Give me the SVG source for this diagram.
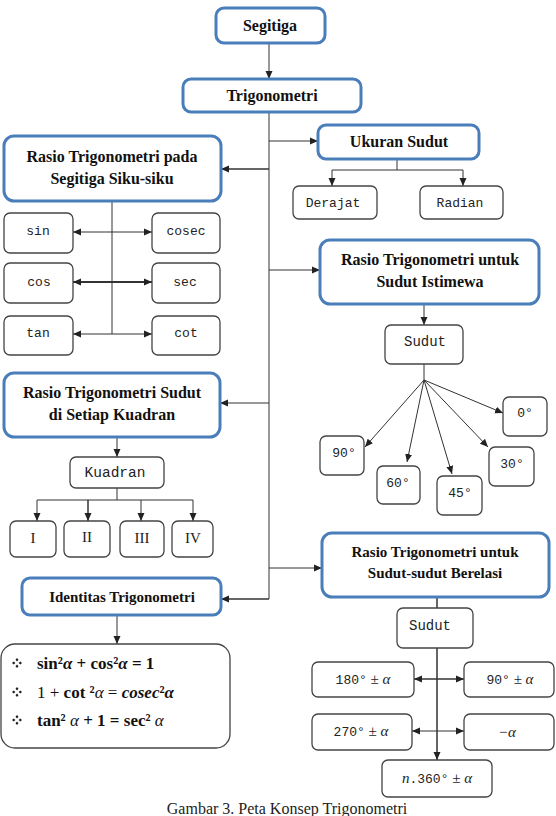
<svg xmlns="http://www.w3.org/2000/svg" width="556" height="816" viewBox="0 0 556 816">
<style>
.bb{fill:#fff;stroke:#4a7ebb;stroke-width:3}
.gb{fill:#fff;stroke:#444;stroke-width:1.3}
.h{font-family:"Liberation Serif","Times New Roman",serif;font-weight:bold;font-size:16px;fill:#111;text-anchor:middle}
.h15{font-size:15px}
.m{font-family:"Liberation Mono","Courier New",monospace;font-size:13px;fill:#222;text-anchor:middle}
.r{font-family:"Liberation Serif","Times New Roman",serif;font-size:15px;fill:#222;text-anchor:middle}
.f{font-family:"Liberation Serif","Times New Roman",serif;font-weight:bold;font-size:17px;fill:#111}
.n{font-weight:normal}
.it{font-style:italic}
.c{stroke:#333;stroke-width:1;fill:none}
.a{marker-end:url(#ah)}
.d{marker-start:url(#ah);marker-end:url(#ah)}
</style>
<defs>
<marker id="ah" viewBox="0 0 8 8" refX="8" refY="4" markerWidth="8" markerHeight="8" markerUnits="userSpaceOnUse" orient="auto-start-reverse">
<path d="M0,0.5 L8,4 L0,7.5 z" fill="#222"/>
</marker>
<g id="bul">
<path d="M0,-5 L1.5,-3.3 L0,-1.6 L-1.5,-3.3 z M0,5 L1.5,3.3 L0,1.6 L-1.5,3.3 z M-5,0 L-3.3,1.5 L-1.6,0 L-3.3,-1.5 z M5,0 L3.3,1.5 L1.6,0 L3.3,-1.5 z" fill="#222"/>
</g>
</defs>

<g id="connectors">
<line class="c a" x1="269" y1="43" x2="269" y2="79"/>
<line class="c" x1="269" y1="112" x2="269" y2="599"/>
<line class="c a" x1="269" y1="141" x2="318" y2="141"/>
<line class="c a" x1="269" y1="169" x2="221" y2="169" style="stroke-width:1.6"/>
<line class="c a" x1="269" y1="270" x2="320" y2="270"/>
<line class="c a" x1="269" y1="403" x2="220" y2="403"/>
<line class="c a" x1="269" y1="568" x2="322" y2="568"/>
<line class="c a" x1="269" y1="599" x2="221" y2="599" style="stroke-width:1.4"/>
<line class="c" x1="397" y1="159" x2="397" y2="170"/>
<line class="c" x1="332" y1="170" x2="463" y2="170"/>
<line class="c a" x1="332" y1="170" x2="332" y2="186"/>
<line class="c a" x1="463" y1="170" x2="463" y2="186"/>
<line class="c" x1="112" y1="201" x2="112" y2="334"/>
<line class="c d" x1="73" y1="232" x2="152" y2="232"/>
<line class="c d" x1="73" y1="282" x2="152" y2="282" style="stroke-width:1.8"/>
<line class="c d" x1="73" y1="334" x2="152" y2="334"/>
<line class="c a" x1="424" y1="304" x2="424" y2="325"/>
<line class="c" x1="424" y1="364" x2="424" y2="380"/>
<line class="c a" x1="424" y1="380" x2="503" y2="413"/>
<line class="c a" x1="424" y1="380" x2="365" y2="447"/>
<line class="c a" x1="424" y1="380" x2="407" y2="462"/>
<line class="c a" x1="424" y1="380" x2="452" y2="474"/>
<line class="c a" x1="424" y1="380" x2="488" y2="447"/>
<line class="c a" x1="117" y1="437" x2="117" y2="457"/>
<line class="c" x1="117" y1="488" x2="117" y2="500"/>
<line class="c" x1="37" y1="500" x2="193" y2="500"/>
<line class="c a" x1="37" y1="500" x2="37" y2="521"/>
<line class="c a" x1="88" y1="500" x2="88" y2="521" style="stroke-width:1.5"/>
<line class="c a" x1="141" y1="500" x2="141" y2="521"/>
<line class="c a" x1="193" y1="500" x2="193" y2="521"/>
<line class="c a" x1="117" y1="615" x2="117" y2="644"/>
<line class="c" x1="437" y1="597" x2="437" y2="608" style="stroke-width:1.5"/>
<line class="c a" x1="437" y1="648" x2="437" y2="760" style="stroke-width:1.5"/>
<line class="c d" x1="414" y1="679" x2="464" y2="679" style="stroke-width:1.3"/>
<line class="c d" x1="412" y1="731" x2="464" y2="731"/>
</g>

<g id="segitiga"><rect class="bb" x="216" y="8" width="109" height="35" rx="8"/><text class="h" x="270" y="31">Segitiga</text></g>
<g id="trigonometri"><rect class="bb" x="183" y="79" width="178" height="33" rx="8"/><text class="h" x="272" y="101">Trigonometri</text></g>

<g id="ukuran-sudut"><rect class="bb" x="318" y="125" width="161" height="34" rx="8"/><text class="h" x="399" y="147">Ukuran Sudut</text></g>
<g id="derajat"><rect class="gb" x="293" y="186" width="84" height="33" rx="6"/><text class="m" x="333" y="207">Derajat</text></g>
<g id="radian"><rect class="gb" x="420" y="186" width="83" height="33" rx="6"/><text class="m" x="460" y="207">Radian</text></g>

<g id="rasio-siku"><rect class="bb" x="4" y="136" width="217" height="65" rx="10"/><text class="h" x="112" y="162">Rasio Trigonometri pada</text><text class="h" x="112" y="184">Segitiga Siku-siku</text></g>
<g id="sin"><rect class="gb" x="4" y="213" width="69" height="40" rx="6"/><text class="m" x="38" y="235">sin</text></g>
<g id="cosec"><rect class="gb" x="152" y="213" width="68" height="40" rx="6"/><text class="m" x="186" y="235">cosec</text></g>
<g id="cos"><rect class="gb" x="4" y="263" width="69" height="40" rx="6"/><text class="m" x="39" y="286">cos</text></g>
<g id="sec"><rect class="gb" x="152" y="263" width="68" height="40" rx="6"/><text class="m" x="185" y="286">sec</text></g>
<g id="tan"><rect class="gb" x="4" y="316" width="69" height="39" rx="6"/><text class="m" x="38" y="337">tan</text></g>
<g id="cot"><rect class="gb" x="152" y="316" width="68" height="39" rx="6"/><text class="m" x="186" y="337">cot</text></g>

<g id="rasio-istimewa"><rect class="bb" x="320" y="240" width="219" height="64" rx="10"/><text class="h" x="430" y="265">Rasio Trigonometri untuk</text><text class="h" x="430" y="287">Sudut Istimewa</text></g>
<g id="sudut-istimewa"><rect class="gb" x="385" y="325" width="78" height="39" rx="6"/><text class="m" x="425" y="346" style="font-size:14px">Sudut</text></g>
<g id="d0"><rect class="gb" x="503" y="397" width="44" height="39" rx="6"/><text class="m" x="525" y="417">0°</text></g>
<g id="d90"><rect class="gb" x="320" y="436" width="44" height="39" rx="6"/><text class="m" x="344" y="457">90°</text></g>
<g id="d60"><rect class="gb" x="377" y="466" width="43" height="38" rx="6"/><text class="m" x="398" y="487">60°</text></g>
<g id="d45"><rect class="gb" x="437" y="476" width="45" height="39" rx="6"/><text class="m" x="460" y="497">45°</text></g>
<g id="d30"><rect class="gb" x="489" y="447" width="45" height="39" rx="6"/><text class="m" x="512" y="468">30°</text></g>

<g id="rasio-kuadran"><rect class="bb" x="4" y="373" width="216" height="64" rx="10"/><text class="h" x="112" y="398">Rasio Trigonometri Sudut</text><text class="h" x="112" y="420">di Setiap Kuadran</text></g>
<g id="kuadran"><rect class="gb" x="70" y="457" width="94" height="31" rx="6"/><text class="m" x="115" y="477" style="font-size:14.5px">Kuadran</text></g>
<g id="q1"><rect class="gb" x="10" y="521" width="46" height="36" rx="6"/><text class="r" x="33" y="543">I</text></g>
<g id="q2"><rect class="gb" x="64" y="521" width="46" height="36" rx="6"/><text class="r" x="87" y="542">II</text></g>
<g id="q3"><rect class="gb" x="120" y="521" width="44" height="36" rx="6"/><text class="r" x="142" y="543">III</text></g>
<g id="q4"><rect class="gb" x="172" y="521" width="41" height="36" rx="6"/><text class="r" x="193" y="543">IV</text></g>

<g id="identitas"><rect class="bb" x="22" y="578" width="199" height="37" rx="8"/><text class="h h15" x="122" y="602">Identitas Trigonometri</text></g>
<g id="identitas-formula"><rect class="gb" x="1" y="644" width="229" height="104" rx="14"/>
<use href="#bul" x="17" y="663"/>
<text class="f" x="37" y="669">sin²<tspan class="it">α</tspan> + cos²<tspan class="it">α</tspan> = 1</text>
<use href="#bul" x="17" y="692"/>
<text class="f" x="37" y="698"><tspan class="n">1 + </tspan>cot ²<tspan class="it n">α</tspan><tspan class="n"> = </tspan><tspan class="it">cosec</tspan>²<tspan class="it">α</tspan></text>
<use href="#bul" x="17" y="720"/>
<text class="f" x="37" y="726">tan²<tspan class="it n"> α</tspan> + 1 = sec²<tspan class="it n"> α</tspan></text>
</g>

<g id="rasio-berelasi"><rect class="bb" x="322" y="533" width="227" height="64" rx="10"/><text class="h h15" x="435" y="557">Rasio Trigonometri untuk</text><text class="h h15" x="435" y="578">Sudut-sudut Berelasi</text></g>
<g id="sudut-berelasi"><rect class="gb" x="397" y="608" width="76" height="40" rx="6"/><text class="m" x="430" y="630" style="font-size:14px">Sudut</text></g>
<g id="b180"><rect class="gb" x="312" y="662" width="102" height="35" rx="6"/><text class="m" x="363" y="684">180°<tspan class="r it" style="font-size:15px"> ± α</tspan></text></g>
<g id="b90"><rect class="gb" x="464" y="662" width="90" height="35" rx="6"/><text class="m" x="510" y="684">90°<tspan class="r it" style="font-size:15px"> ± α</tspan></text></g>
<g id="b270"><rect class="gb" x="312" y="714" width="100" height="36" rx="6"/><text class="m" x="361" y="736">270°<tspan class="r it" style="font-size:15px"> ± α</tspan></text></g>
<g id="bneg"><rect class="gb" x="464" y="714" width="90" height="36" rx="6"/><text class="r it" x="507" y="737">−α</text></g>
<g id="bn360"><rect class="gb" x="382" y="760" width="110" height="37" rx="6"/><text class="m" x="437" y="783"><tspan class="r it" style="font-size:15px">n</tspan>.360°<tspan class="r it" style="font-size:15px"> ± α</tspan></text></g>

<text x="287" y="814" style="font-family:'Liberation Serif','Times New Roman',serif;font-size:16px;fill:#222;text-anchor:middle">Gambar 3. Peta Konsep Trigonometri</text>
</svg>
